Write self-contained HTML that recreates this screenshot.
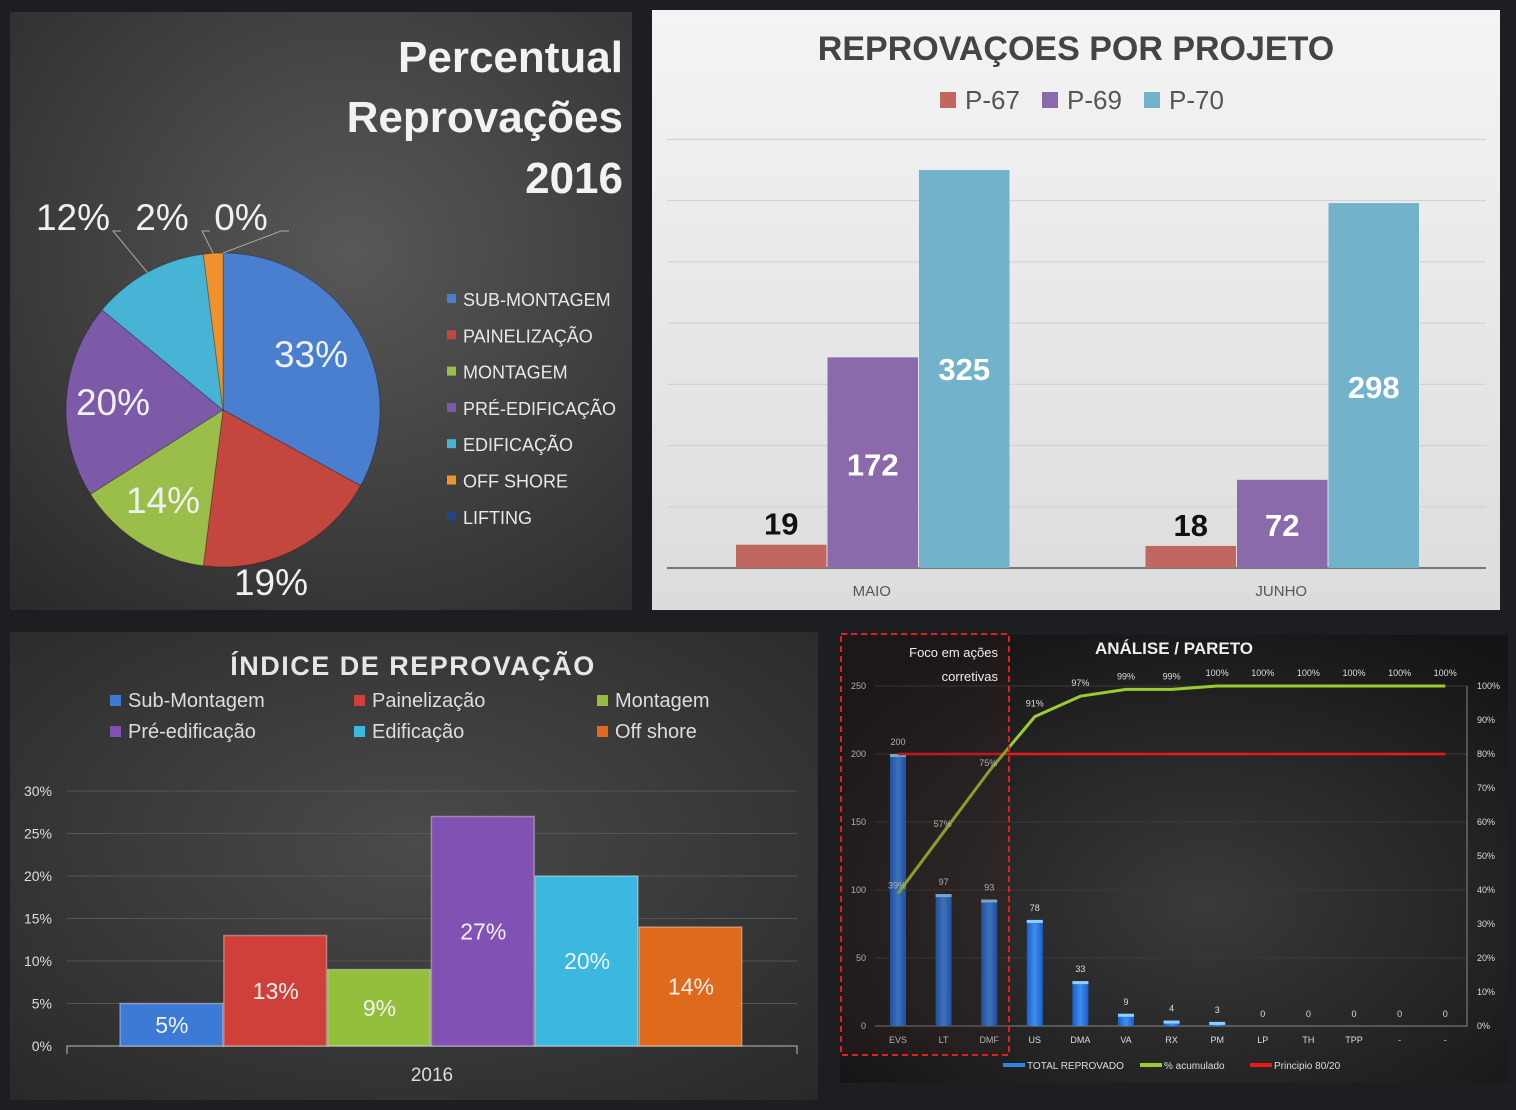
<!DOCTYPE html>
<html><head><meta charset="utf-8">
<style>
html,body{margin:0;padding:0;background:#1c1e21;}
svg{display:block;font-family:"Liberation Sans",sans-serif;}
</style></head>
<body>
<svg width="1516" height="1110" viewBox="0 0 1516 1110" xmlns="http://www.w3.org/2000/svg">
<defs>
<radialGradient id="gPie" cx="0.55" cy="0.4" r="0.8"><stop offset="0" stop-color="#585858"/><stop offset="1" stop-color="#2a2a2a"/></radialGradient>
<linearGradient id="gBar" x1="0" y1="0" x2="0" y2="1"><stop offset="0" stop-color="#f4f4f4"/><stop offset="1" stop-color="#dcdcdc"/></linearGradient>
<radialGradient id="gIdx" cx="0.5" cy="0.45" r="0.8"><stop offset="0" stop-color="#4a4a4a"/><stop offset="1" stop-color="#262626"/></radialGradient>
<radialGradient id="gPar" cx="0.55" cy="0.6" r="0.7"><stop offset="0" stop-color="#3a3a3a"/><stop offset="1" stop-color="#141414"/></radialGradient>
<linearGradient id="gBlue" x1="0" x2="1"><stop offset="0" stop-color="#1a5fc8"/><stop offset="0.5" stop-color="#3d8ef0"/><stop offset="1" stop-color="#1a5fc8"/></linearGradient>
</defs>

<!-- panels -->
<rect x="10" y="12" width="622" height="598" fill="url(#gPie)"/>
<rect x="652" y="10" width="848" height="600" fill="url(#gBar)"/>
<rect x="10" y="632" width="808" height="468" fill="url(#gIdx)"/>
<rect x="840" y="635" width="668" height="448" fill="url(#gPar)"/>

<!-- pie titles -->
<g font-weight="bold" font-size="44" fill="#f2f2f2" text-anchor="end">
<text x="623" y="72">Percentual</text><text x="623" y="132">Reprovações</text><text x="623" y="193">2016</text>
</g>
<g id="pie"></g>
<g id="pieLegend"></g>

<!-- project bar -->
<text x="1076" y="60" text-anchor="middle" font-size="34" font-weight="bold" fill="#444">REPROVAÇOES POR PROJETO</text>
<g id="projLegend"></g>
<g id="proj"></g>

<!-- index chart -->
<text x="413" y="675" text-anchor="middle" font-size="27" font-weight="bold" fill="#e6e6e6" letter-spacing="1.5">ÍNDICE DE REPROVAÇÃO</text>
<g id="idxLegend"></g>
<g id="idx"></g>

<!-- pareto -->
<text x="1174" y="654" text-anchor="middle" font-size="17" font-weight="bold" fill="#eee">ANÁLISE / PARETO</text>
<g id="par"></g>
<rect x="841" y="634" width="168" height="421" fill="rgba(60,30,30,0.25)" stroke="#e02020" stroke-width="2" stroke-dasharray="6,4"/>
<text x="998" y="657" text-anchor="end" font-size="13" fill="#eee">Foco em ações</text>
<text x="998" y="681" text-anchor="end" font-size="13" fill="#eee">corretivas</text>
</svg>
<script>
const NS="http://www.w3.org/2000/svg";
function mk(p,t,a,txt){const e=document.createElementNS(NS,t);for(const k in a)e.setAttribute(k,a[k]);if(txt!==undefined)e.textContent=txt;p.appendChild(e);return e;}

// ---- PIE DATA ----
const pieCats=["SUB-MONTAGEM","PAINELIZAÇÃO","MONTAGEM","PRÉ-EDIFICAÇÃO","EDIFICAÇÃO","OFF SHORE","LIFTING"];
const pieVals=[33,19,14,20,12,2,0];
const pieColors=["#4a7fd0","#c4473f","#9bbd4a","#7d5aa8","#47b4d6","#f0932e","#24448a"];
const pie=document.getElementById('pie');
(function(){
 const cx=223,cy=410,r=157;let total=pieVals.reduce((a,b)=>a+b,0);let a0=-Math.PI/2;
 const lblPos=[[311,354,0],[271,582,0],[163,500,0],[113,402,0],[73,217,1],[162,217,1],[241,217,1]];
 pieVals.forEach((v,i)=>{
  const a1=a0+v/total*2*Math.PI;
  if(v>0){
   const x0=cx+r*Math.cos(a0),y0=cy+r*Math.sin(a0),x1=cx+r*Math.cos(a1),y1=cy+r*Math.sin(a1);
   const s=mk(pie,'path',{d:`M${cx},${cy}L${x0},${y0}A${r},${r} 0 ${a1-a0>Math.PI?1:0} 1 ${x1},${y1}Z`,fill:pieColors[i],stroke:"rgba(0,0,0,0.25)","stroke-width":1});
   
   
  }
  const am=(a0+a1)/2;
  const p=lblPos[i];
  if(p[2]){const ex=cx+r*Math.cos(am),ey=cy+r*Math.sin(am);
   const l=mk(pie,'polyline',{points:`${ex},${ey} ${p[0]+40},${p[1]+14} ${p[0]+48},${p[1]+14}`,fill:"none",stroke:"#aaa","stroke-width":1});
   
   }
  const t=mk(pie,'text',{x:p[0],y:p[1]+13,"text-anchor":"middle","font-size":37,fill:"#f0f0f0"},v+"%");
  
  
  a0=a1;
 });
 const lg=document.getElementById('pieLegend');
 pieCats.forEach((c,i)=>{const y=299+i*36.3;
  const r1=mk(lg,'rect',{x:447,y:y-5,width:9,height:9,fill:pieColors[i]});
  
  
  const t=mk(lg,'text',{x:463,y:y+7,"font-size":18,fill:"#e8e8e8"},c);
  
  });
})();

// ---- PROJECT BAR DATA ----
const projMonths=["MAIO","JUNHO"];
const projSeries=["P-67","P-69","P-70"];
const projP67=[19,18];
const projP69=[172,72];
const projP70=[325,298];
const projColors=["#c0675f","#8a6aab","#72b3cb"];
(function(){
 const g=document.getElementById('proj');
 const base=568,scale=398/325,x0=667,x1=1486;
 const yv=v=>base-v*scale;
 for(let t=50;t<=350;t+=50){const l=mk(g,'line',{x1:x0,x2:x1,y1:yv(t),y2:yv(t),stroke:"#cfcfcf","stroke-width":1});
  
  }
 const ax=mk(g,'line',{x1:x0,x2:x1,y1:base,y2:base,stroke:"#555","stroke-width":1.5});
 
 
 const series=[projP67,projP69,projP70];
 const gw=(x1-x0)/projMonths.length,bw=90.5;
 projMonths.forEach((m,mi)=>{
  const cx=x0+gw*(mi+0.5);
  series.forEach((s,si)=>{
   const bx=cx-1.5*bw+si*bw+(si)*1,v=s[mi];
   const r=mk(g,'rect',{x:bx,y:yv(v),width:bw,height:v*scale,fill:projColors[si]});
   
   
   const small=v*scale<45;
   const t=mk(g,'text',{x:bx+bw/2,y:small?yv(v)-10:yv(v)+(si==2?212:117)*0+ (si==2? (mi==0?210:195):(mi==0?118:56)),"text-anchor":"middle","font-size":31,"font-weight":"bold",fill:small?"#111":"#fff"},v);
   
   
  });
  const t=mk(g,'text',{x:cx,y:596,"text-anchor":"middle","font-size":15,fill:"#555"},m);
  
  
 });
 const lg=document.getElementById('projLegend');
 const lx=[940,1042,1144];
 projSeries.forEach((s,i)=>{const r=mk(lg,'rect',{x:lx[i],y:92,width:16,height:16,fill:projColors[i]});
  
  
  const t=mk(lg,'text',{x:lx[i]+25,y:109,"font-size":26,fill:"#555"},s);
  
  });
})();

// ---- INDEX DATA ----
const idxCats=["Sub-Montagem","Painelização","Montagem","Pré-edificação","Edificação","Off shore"];
const idxVals=[5,13,9,27,20,14];
const idxTicks=["0%","5%","10%","15%","20%","25%","30%"];
const idxColors=["#3d7ad6","#d0403a","#93bf3c","#8251b4","#3ab8e0","#e06a1c"];
(function(){
 const g=document.getElementById('idx');
 const base=1046,sc=8.5,x0=67,x1=797;const yv=v=>base-v*sc;
 idxTicks.forEach((t,i)=>{const y=yv(i*5);
  if(i>0){const l=mk(g,'line',{x1:x0,x2:x1,y1:y,y2:y,stroke:"#555","stroke-width":1});
   
   }
  const tx=mk(g,'text',{x:52,y:y+5,"text-anchor":"end","font-size":14,fill:"#ddd"},t);
  
  });
 const ax=mk(g,'polyline',{points:`${x0},${base+8} ${x0},${base} ${x1},${base} ${x1},${base+8}`,fill:"none",stroke:"#bbb","stroke-width":1});
 
 
 const bw=103.8,bx0=120;
 idxVals.forEach((v,i)=>{const x=bx0+i*bw;
  const r=mk(g,'rect',{x:x,y:yv(v),width:bw-1,height:v*sc,fill:idxColors[i],stroke:"rgba(255,255,255,0.35)","stroke-width":1.5});
  
  
  const t=mk(g,'text',{x:x+bw/2+(i==0?0:0),y:yv(v/2)+8,"text-anchor":"middle","font-size":23,fill:"#f2f2f2"},v+"%");
  
  });
 const t=mk(g,'text',{x:432,y:1081,"text-anchor":"middle","font-size":19,fill:"#ddd"},"2016");
 
 
 const lg=document.getElementById('idxLegend');
 const lx=[110,354,597];
 idxCats.forEach((c,i)=>{const x=lx[i%3],y=700+Math.floor(i/3)*31;
  const r=mk(lg,'rect',{x:x,y:y-5,width:11,height:11,fill:idxColors[i]});
  
  
  const tx=mk(lg,'text',{x:x+18,y:y+7,"font-size":20,fill:"#ddd"},c);
  
  });
})();

// ---- PARETO DATA ----
const parCats=["EVS","LT","DMF","US","DMA","VA","RX","PM","LP","TH","TPP","-","-"];
const parTotals=[200,97,93,78,33,9,4,3,0,0,0,0,0];
const parCum=[39,57,75,91,97,99,99,100,100,100,100,100,100];
const parPrinciple=80;
const parLeftTicks=[0,50,100,150,200,250];
const parRightTicks=[0,10,20,30,40,50,60,70,80,90,100];
(function(){
 const g=document.getElementById('par');
 const base=1026,top=686,x0=875,x1=1467;
 const yl=v=>base-v*(base-top)/250, yr=p=>base-p*(base-top)/100;
 const xc=i=>898+i*45.6;
 parLeftTicks.forEach(t=>{
  if(t>0){const l=mk(g,'line',{x1:x0,x2:x1,y1:yl(t),y2:yl(t),stroke:"#3a3a3a","stroke-width":1});
   
   }
  const tx=mk(g,'text',{x:866,y:yl(t)+3,"text-anchor":"end","font-size":9,fill:"#ddd"},t);
  
  });
 parRightTicks.forEach(t=>{const tx=mk(g,'text',{x:1477,y:yr(t)+3,"font-size":9,fill:"#ddd"},t+"%");
  
  });
 const ax=mk(g,'polyline',{points:`${x0},${base} ${x1},${base} ${x1},${yr(100)}`,fill:"none",stroke:"#888","stroke-width":1});
 
 
 parTotals.forEach((v,i)=>{const x=xc(i);
  if(v>0){const r=mk(g,'rect',{x:x-8,y:yl(v),width:16,height:v*(base-top)/250,fill:"url(#gBlue)"});
   
   
   const h=mk(g,'rect',{x:x-8,y:yl(v),width:16,height:3,fill:"#8fd0ff"});
   
   }
  const tx=mk(g,'text',{x:x,y:yl(v)-9,"text-anchor":"middle","font-size":9,fill:"#ddd"},v);
  
  
  const c=mk(g,'text',{x:x,y:1043,"text-anchor":"middle","font-size":9,fill:"#ddd"},parCats[i]);
  
  });
 const red=mk(g,'line',{x1:xc(0),x2:xc(parCats.length-1),y1:yr(parPrinciple),y2:yr(parPrinciple),stroke:"#e8191c","stroke-width":2.5});
 
 
 const pl=mk(g,'polyline',{points:parCum.map((p,i)=>xc(i)+','+yr(p)).join(' '),fill:"none",stroke:"#9ccc2c","stroke-width":3});
 
 
 parCum.forEach((p,i)=>{const off=i<3?[0,-5]:[0,-10];
  const tx=mk(g,'text',{x:xc(i)+(i<3?-1:0),y:yr(p)+off[1],"text-anchor":"middle","font-size":9,fill:"#ddd"},p+"%");
  
  });
 const leg=[[1003,"#2f86e8","TOTAL REPROVADO"],[1140,"#9ccc2c","% acumulado"],[1250,"#e8191c","Principio 80/20"]];
 leg.forEach(l=>{const r=mk(g,'rect',{x:l[0],y:1063,width:22,height:4,fill:l[1]});
  
  
  const t=mk(g,'text',{x:l[0]+24,y:1069,"font-size":10,fill:"#ddd"},l[2]);
  
  });
})();
</script>
</body></html>
